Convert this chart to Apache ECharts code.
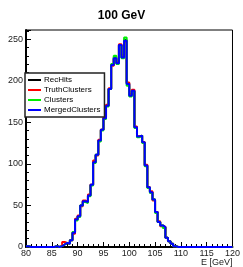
<!DOCTYPE html>
<html>
<head>
<meta charset="utf-8">
<script src="https://cdn.jsdelivr.net/npm/echarts@6/dist/echarts.min.js"></script>
<style>
  html, body { margin: 0; padding: 0; background: #fff; }
  #chart { width: 243px; height: 267px; }
</style>
</head>
<body>
<div id="chart"></div>
<script>
// bin edges: 80 bins of 0.5 GeV from 80 to 120
var binStart = 80;
var binWidth = 0.5;

// counts per bin
var recHits = [
  1, 0, 0, 0, 0, 0, 0, 0, 0, 0, 0, 1, 0, 1, 3, 5, 4, 8, 17, 33,
  37, 50, 55, 54, 62, 75, 102, 111, 128, 141, 155, 170, 190, 219, 228, 221, 243, 228, 249, 197,
  183, 188, 144, 133, 134, 126, 98, 72, 66, 57, 42, 30, 26, 24, 11, 7, 4, 1, 0, 0,
  0, 0, 0, 0, 0, 0, 0, 0, 0, 0, 0, 0, 0, 0, 0, 0, 0, 0, 0, 0
];
var truthClusters = [
  1, 0, 0, 0, 0, 0, 0, 0, 0, 0, 0, 1, 0, 1, 6, 5, 4, 8, 16, 34,
  38, 49, 56, 54, 63, 75, 104, 110, 129, 141, 156, 171, 191, 218, 226, 222, 244, 231, 247, 198,
  184, 189, 145, 133, 133, 126, 99, 72, 67, 56, 42, 31, 25, 24, 11, 7, 4, 1, 0, 0,
  0, 0, 0, 0, 0, 0, 0, 0, 0, 0, 0, 0, 0, 0, 0, 0, 0, 0, 0, 0
];
var clusters = [
  1, 0, 0, 0, 0, 0, 0, 0, 0, 0, 0, 1, 0, 1, 3, 5, 4, 8, 18, 32,
  36, 50, 54, 53, 61, 74, 101, 111, 127, 140, 154, 169, 190, 220, 230, 220, 242, 227, 252, 194,
  181, 187, 143, 132, 134, 125, 97, 71, 65, 57, 41, 30, 26, 23, 11, 7, 4, 1, 0, 0,
  0, 0, 0, 0, 0, 0, 0, 0, 0, 0, 0, 0, 0, 0, 0, 0, 0, 0, 0, 0
];
var mergedClusters = [
  1, 0, 0, 0, 0, 0, 0, 0, 0, 0, 0, 1, 0, 1, 3, 5, 4, 8, 17, 33,
  37, 50, 55, 54, 62, 75, 102, 111, 128, 141, 155, 170, 190, 219, 227, 221, 243, 228, 248, 196,
  182, 188, 144, 133, 134, 126, 98, 72, 66, 57, 42, 30, 26, 24, 11, 7, 4, 1, 0, 0,
  0, 0, 0, 0, 0, 0, 0, 0, 0, 0, 0, 0, 0, 0, 0, 0, 0, 0, 0, 0
];

var seriesNames = ['RecHits', 'TruthClusters', 'Clusters', 'MergedClusters'];
var seriesColors = ['#000000', '#ff0000', '#00ee00', '#0000ff'];
var seriesData = [recHits, truthClusters, clusters, mergedClusters];

// step histogram points: one per bin start plus closing edge
function toSteps(counts) {
  var pts = [];
  for (var i = 0; i < counts.length; i++) {
    pts.push([binStart + i * binWidth, counts[i]]);
  }
  pts.push([binStart + counts.length * binWidth, counts[counts.length - 1]]);
  return pts;
}

var series = seriesNames.map(function (name, k) {
  return {
    name: name,
    type: 'line',
    step: 'end',
    showSymbol: false,
    symbol: 'none',
    animation: false,
    lineStyle: { color: seriesColors[k], width: 2 },
    itemStyle: { color: seriesColors[k] },
    data: toSteps(seriesData[k])
  };
});

var myChart = echarts.init(document.getElementById('chart'), null, { renderer: 'canvas' });
var option = {
  animation: false,
  title: {
    text: '100 GeV',
    left: 'center',
    top: 5,
    textStyle: { fontFamily: 'Liberation Sans', fontSize: 12, fontWeight: 'bold', color: '#000' }
  },
  legend: {
    data: seriesNames,
    orient: 'vertical',
    left: 25,
    top: 73,
    icon: 'rect',
    itemWidth: 13,
    itemHeight: 2,
    itemGap: 2,
    padding: [3, 4, 3, 3],
    backgroundColor: '#fff',
    borderColor: '#222',
    borderWidth: 1.5,
    textStyle: { fontFamily: 'Liberation Sans', fontSize: 8, color: '#000', lineHeight: 8, padding: [0, 0, 0, -2] }
  },
  grid: {
    left: 26,
    right: 6,
    top: 30,
    bottom: 20,
    show: true,
    borderColor: '#000',
    borderWidth: 1,
    backgroundColor: '#fff'
  },
  xAxis: {
    type: 'value',
    min: 80,
    max: 120,
    interval: 5,
    name: 'E [GeV]',
    nameLocation: 'end',
    nameGap: 0,
    nameTextStyle: { fontFamily: 'Liberation Sans', fontSize: 9, color: '#222', align: 'right', verticalAlign: 'top', padding: [11, 0, 0, 0] },
    axisLine: { show: true, onZero: false, lineStyle: { color: '#000', width: 2 } },
    axisTick: { show: true, inside: true, length: 5, lineStyle: { color: '#000', width: 1 } },
    minorTick: { show: true, splitNumber: 5, length: 3, lineStyle: { color: '#000', width: 1 } },
    splitLine: { show: false },
    axisLabel: { fontFamily: 'Liberation Sans', fontSize: 9, color: '#222', margin: 2 }
  },
  yAxis: {
    type: 'value',
    min: 0,
    max: 261,
    interval: 50,
    axisLine: { show: true, lineStyle: { color: '#000', width: 2 } },
    axisTick: { show: true, inside: true, length: 5, lineStyle: { color: '#000', width: 1 } },
    minorTick: { show: true, splitNumber: 5, length: 3, lineStyle: { color: '#000', width: 1 } },
    splitLine: { show: false },
    axisLabel: {
      fontFamily: 'Liberation Sans', fontSize: 9, color: '#222', margin: 3,
      formatter: function (v) { return v % 50 === 0 ? String(v) : ''; }
    }
  },
  series: series
};
myChart.setOption(option);
</script>
</body>
</html>
